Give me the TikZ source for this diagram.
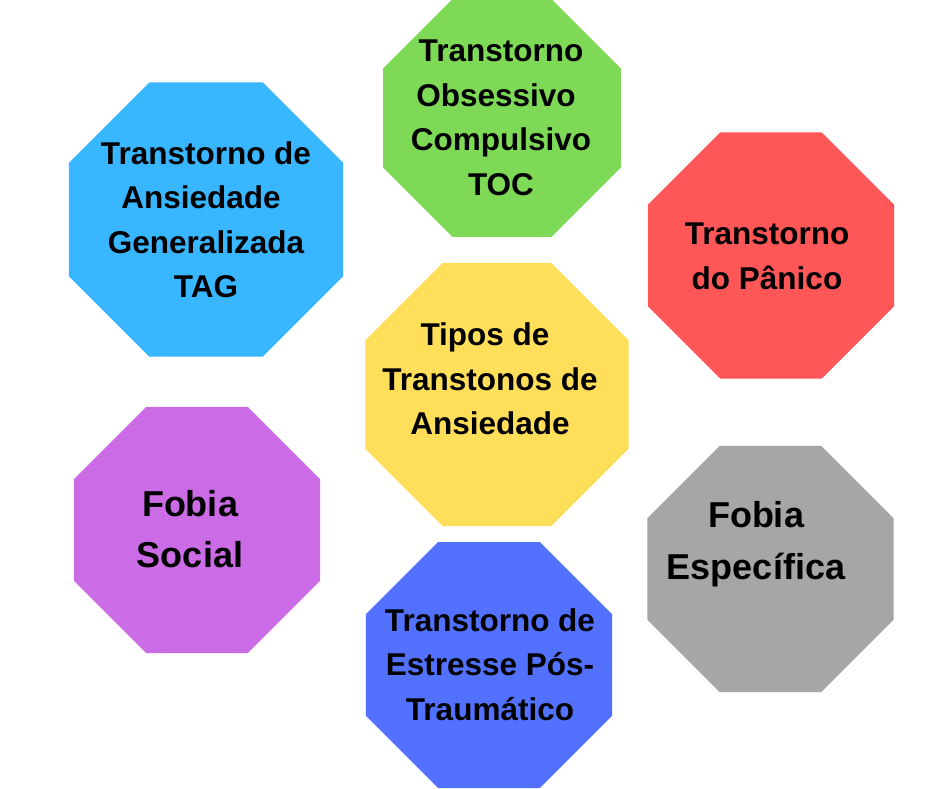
\documentclass[tikz,border=0pt]{standalone}
\usepackage{fontspec}
\setmainfont{Liberation Sans}
\usetikzlibrary{shapes.geometric}
\definecolor{cblue}{HTML}{38B6FF}
\definecolor{cgreen}{HTML}{7ED957}
\definecolor{cred}{HTML}{FF5757}
\definecolor{cyellow}{HTML}{FFDE59}
\definecolor{cpurple}{HTML}{CB6CE6}
\definecolor{cgray}{HTML}{A6A6A6}
\definecolor{cindigo}{HTML}{5271FF}
\tikzset{
  octo/.style={regular polygon, regular polygon sides=8, draw=none, inner sep=0pt, outer sep=0pt},
  lbl/.style={align=center, inner sep=0pt, outer sep=0pt, text=black, font=\fontsize{31.5}{44.5}\selectfont\bfseries},
  biglbl/.style={align=center, inner sep=0pt, outer sep=0pt, text=black, font=\fontsize{36}{51.5}\selectfont\bfseries}
}
\begin{document}
\begin{tikzpicture}[x=1pt,y=-1pt]
\useasboundingbox (0,0) rectangle (940,788);
\fill[white] (0,0) rectangle (940,788);
% octagons
\node[octo, fill=cblue,   minimum size=296.6pt] (tag)   at (206,219.5) {};
\node[octo, fill=cgreen,  minimum size=257.6pt] (toc)   at (502,118) {};
\node[octo, fill=cred,    minimum size=266.3pt] (pan)   at (771,255.5) {};
\node[octo, fill=cyellow, minimum size=284.7pt] (tipos) at (497,394.5) {};
\node[octo, fill=cpurple, minimum size=266.3pt] (soc)   at (197,530) {};
\node[octo, fill=cgray,   minimum size=266.3pt] (esp)   at (770.5,569) {};
\node[octo, fill=cindigo, minimum size=266.3pt] (tept)  at (489,665) {};
% labels
\node[lbl] (ttag) at (206,219.7) {Transtorno de\\Ansiedade\kern10pt\\Generalizada\\TAG};
\node[lbl] (ttoc) at (501,117.7) {Transtorno\\Obsessivo\kern10pt\\Compulsivo\\TOC};
\node[lbl] (tpan) at (767,256.2) {Transtorno\\do Pânico};
\node[lbl] (ttipos) at (490,379.2) {Tipos de\kern10pt\\Transtonos de\\Ansiedade};
\node[biglbl] (tsoc) at (190,528.9) {Fobia\\Social};
\node[biglbl] (tesp) at (756,544.2) {Fobia\\Específica};
\node[lbl] (ttept) at (490,664.7) {Transtorno de\\Estresse Pós-\\Traumático};
\end{tikzpicture}
\end{document}
